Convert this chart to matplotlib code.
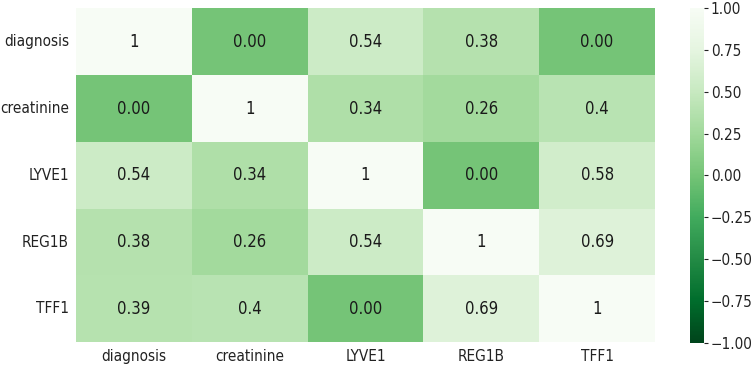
import matplotlib
matplotlib.use("Agg")
import matplotlib.pyplot as plt
import seaborn as sns
import numpy as np

labels = ["diagnosis", "creatinine", "LYVE1", "REG1B", "TFF1"]
values = [
    [1.00, 0.00, 0.54, 0.38, 0.00],
    [0.00, 1.00, 0.34, 0.26, 0.40],
    [0.54, 0.34, 1.00, 0.00, 0.58],
    [0.38, 0.26, 0.54, 1.00, 0.69],
    [0.39, 0.40, 0.00, 0.69, 1.00],
]
annots = [
    ["1", "0.00", "0.54", "0.38", "0.00"],
    ["0.00", "1", "0.34", "0.26", "0.4"],
    ["0.54", "0.34", "1", "0.00", "0.58"],
    ["0.38", "0.26", "0.54", "1", "0.69"],
    ["0.39", "0.4", "0.00", "0.69", "1"],
]

plt.rcParams["font.family"] = ["DejaVu Sans"]
plt.rcParams["font.stretch"] = "condensed"

fig = plt.figure(figsize=(7.52, 3.66), dpi=100)
ax = fig.add_axes([0.101, 0.065, 0.77, 0.912])
cax = fig.add_axes([0.918, 0.063, 0.018, 0.915])
sns.heatmap(np.array(values), annot=np.array(annots), fmt="", cmap="Greens_r",
            vmin=-1, vmax=1, ax=ax, cbar_ax=cax,
            xticklabels=labels, yticklabels=labels,
            annot_kws={"fontsize": 12, "color": "#1a1a1a", "fontstretch": "condensed"})
ax.tick_params(axis="both", length=0, labelsize=11, pad=5, colors="#222222")
ax.tick_params(axis="y", rotation=0)
cax.tick_params(labelsize=11, length=3, pad=2, colors="#222222")
for lab in list(ax.get_xticklabels()) + list(ax.get_yticklabels()) + list(cax.get_yticklabels()):
    lab.set_fontstretch("condensed")
fig.savefig("out.png", dpi=100)
